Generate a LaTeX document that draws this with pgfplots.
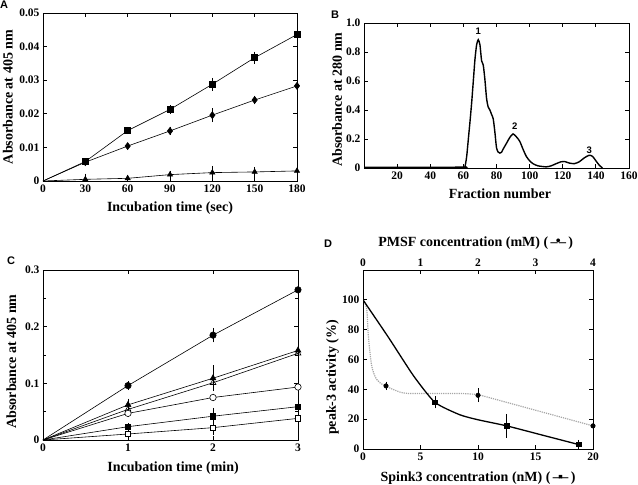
\documentclass[border=0pt]{standalone}
\usepackage{fontspec}
\setmainfont{Liberation Serif}
\newfontfamily\arial{Liberation Sans}
\usepackage{pgfplots}
\pgfplotsset{compat=1.18}

\pgfplotsset{
  panel/.style={
    scale only axis, anchor=north west,
    scaled ticks=false,
    axis line style={line width=0.9pt},
    tick style={line width=0.8pt, black},
    major tick length=4pt, minor tick length=3pt,
    tick align=inside,
    /pgf/number format/assume math mode=true,
    tick label style={font=\bfseries\fontsize{11.5}{13}\selectfont},
    label style={font=\bfseries\fontsize{14}{16}\selectfont},
    every axis plot/.append style={line width=0.6pt, black},
  },
  ebar/.style={error bars/.cd, y dir=both, y explicit,
    error bar style={line width=0.6pt},
    error mark options={mark size=1.6pt, line width=0.6pt}},
}

\begin{document}
\begin{tikzpicture}
\useasboundingbox (0,0) rectangle (638pt,-485pt);

% panel letters
\node[font=\arial\bfseries\fontsize{11}{13}\selectfont] at (4pt,-5pt) {A};
\node[font=\arial\bfseries\fontsize{11}{13}\selectfont] at (335pt,-15pt) {B};
\node[font=\arial\bfseries\fontsize{11}{13}\selectfont] at (11pt,-261pt) {C};
\node[font=\arial\bfseries\fontsize{11}{13}\selectfont] at (328pt,-244pt) {D};

% ---------------- A
\begin{axis}[panel, at={(43pt,-13pt)}, width=254pt, height=168pt,
  xmin=0, xmax=180, ymin=0, ymax=0.05,
  xtick={0,30,60,90,120,150,180},
  ytick={0,0.01,0.02,0.03,0.04,0.05},
  yticklabels={0,0.01,0.02,0.03,0.04,0.05},
  xlabel={Incubation time (sec)}, ylabel={Absorbance at 405 nm},
  xlabel style={at={(axis description cs:0.5,-0.16)}, anchor=center},
  ylabel style={at={(axis description cs:-0.138,0.5)}, anchor=center},
]
\addplot[mark=square*, mark size=3pt, mark indices={2,...,7}, ebar] coordinates {
  (0,0) +- (0,0)
  (30,0.0058) +- (0,0.0005)
  (60,0.0150) +- (0,0.0006)
  (90,0.0213) +- (0,0.0008)
  (120,0.0288) +- (0,0.0014)
  (150,0.0367) +- (0,0.0013)
  (180,0.0436) +- (0,0.0012)};
\addplot[mark=diamond*, mark size=3.5pt, mark indices={2,...,7}, ebar] coordinates {
  (0,0) +- (0,0)
  (30,0.0056) +- (0,0.0004)
  (60,0.0104) +- (0,0.0004)
  (90,0.0149) +- (0,0.0008)
  (120,0.0196) +- (0,0.0016)
  (150,0.0241) +- (0,0.0008)
  (180,0.0283) +- (0,0.0013)};
\addplot[mark=triangle*, mark size=3pt, mark indices={2,...,7}, ebar] coordinates {
  (0,0) +- (0,0)
  (30,0.0005) +- (0,0.0012)
  (60,0.0008) +- (0,0.0005)
  (90,0.0019) +- (0,0.0007)
  (120,0.0025) +- (0,0.0015)
  (150,0.0027) +- (0,0.0010)
  (180,0.0030) +- (0,0.0005)};
\end{axis}

% ---------------- B
\begin{axis}[panel, at={(364pt,-23pt)}, width=265pt, height=145pt,
  xmin=0, xmax=160, ymin=0, ymax=1.0,
  xtick={20,40,...,160},
  ytick={0,0.2,0.4,0.6,0.8,1.0},
  yticklabels={0,0.2,0.4,0.6,0.8,1.0},
  xlabel={Fraction number}, ylabel={Absorbance at 280 nm},
  xlabel style={at={(axis description cs:0.513,-0.175)}, anchor=center},
  ylabel style={at={(axis description cs:-0.102,0.472)}, anchor=center},
]
\addplot[line width=1.4pt, smooth, tension=0.4] coordinates {
  (0,0.005) (30,0.005) (60,0.006) (61,0.012) (62,0.08) (63,0.2) (64,0.32)
  (65,0.45) (66,0.6) (67,0.75) (68,0.85) (69,0.885) (70,0.85) (71,0.74)
  (72,0.71) (73,0.61) (74,0.48) (75,0.42) (76,0.40) (77,0.37) (78,0.34)
  (79,0.25) (80,0.14) (81,0.11) (82,0.103) (83,0.108) (84,0.13) (86,0.17)
  (88,0.21) (90,0.235) (92,0.215) (94,0.185) (96,0.13) (98,0.08) (100,0.05)
  (102,0.03) (105,0.015) (110,0.008) (113,0.015) (116,0.03) (119,0.043)
  (121,0.045) (124,0.034) (127,0.03) (130,0.043) (133,0.07) (136,0.088)
  (138,0.08) (140,0.05) (142,0.02) (144,0)};
\node[font=\arial\bfseries\fontsize{9.5}{11}\selectfont] at (axis cs:69,0.94) {1};
\node[font=\arial\bfseries\fontsize{9.5}{11}\selectfont] at (axis cs:91,0.285) {2};
\node[font=\arial\bfseries\fontsize{9.5}{11}\selectfont] at (axis cs:136,0.125) {3};
\end{axis}

% ---------------- C
\begin{axis}[panel, at={(43pt,-270pt)}, width=255pt, height=170pt,
  xmin=0, xmax=3, ymin=0, ymax=0.3,
  xtick={0,1,2,3},
  ytick={0,0.1,0.2,0.3}, yticklabels={0,0.1,0.2,0.3},
  minor y tick num=1,
  xlabel={Incubation time (min)}, ylabel={Absorbance at 405 nm},
  xlabel style={at={(axis description cs:0.51,-0.165)}, anchor=center},
  ylabel style={at={(axis description cs:-0.124,0.462)}, anchor=center},
]
\addplot[mark=*, mark size=3.2pt, mark indices={2,3,4}, ebar] coordinates {
  (0,0) +- (0,0) (1,0.096) +- (0,0.005) (2,0.185) +- (0,0.010) (3,0.265) +- (0,0.004)};
\addplot[mark=triangle*, mark size=3.4pt, mark indices={2,3,4}, ebar] coordinates {
  (0,0) +- (0,0) (1,0.062) +- (0,0.008) (2,0.109) +- (0,0.020) (3,0.158) +- (0,0.008)};
\addplot[mark=triangle, mark size=3.4pt, mark options={fill=white}, mark indices={2,3,4}, ebar] coordinates {
  (0,0) +- (0,0) (1,0.054) +- (0,0.004) (2,0.101) +- (0,0.008) (3,0.153) +- (0,0.005)};
\addplot[mark=*, mark size=3.2pt, mark options={fill=white}, mark indices={2,3,4}, ebar] coordinates {
  (0,0) +- (0,0) (1,0.047) +- (0,0.004) (2,0.075) +- (0,0.004) (3,0.0935) +- (0,0.004)};
\addplot[mark=square*, mark size=2.8pt, mark indices={2,3,4}, ebar] coordinates {
  (0,0) +- (0,0) (1,0.0235) +- (0,0.003) (2,0.042) +- (0,0.012) (3,0.0588) +- (0,0.004)};
\addplot[mark=square*, mark size=2.8pt, mark options={fill=white}, mark indices={2,3,4}, ebar] coordinates {
  (0,0) +- (0,0) (1,0.0106) +- (0,0.004) (2,0.0218) +- (0,0.010) (3,0.0382) +- (0,0.004)};
\end{axis}

% ---------------- D  (PMSF, top axis)
\begin{axis}[panel, at={(363pt,-270pt)}, width=230pt, height=179pt,
  xmin=0, xmax=4, ymin=0, ymax=120,
  axis x line*=top, hide y axis,
  xtick={0,1,2,3,4},
  xlabel={PMSF concentration (mM) (\,–\hspace{-0.12em}\raisebox{0.05em}{•}\hspace{-0.12em}–\,)},
  xlabel style={at={(axis description cs:0.49,1.151)}, anchor=center},
]
\addplot[gray!70, line width=1.2pt, densely dotted, smooth, tension=0.5] coordinates {
  (0,100) (0.064,94) (0.093,76) (0.15,56) (0.24,46.5) (0.38,42.5)
  (0.7,37.6) (1.1,37.2) (1.7,37.2) (2.0,36.5)};
\addplot[gray!70, line width=1.2pt, densely dotted] coordinates {
  (2.0,36.5) (4,15.5)};
\addplot[only marks, mark=*, mark size=2.2pt, ebar] coordinates {
  (0.4,42.3) +- (0,1.8) (2,36) +- (0,3.5) (4,15.5) +- (0,5)};
\end{axis}

% ---------------- D  (Spink3, bottom axis)
\begin{axis}[panel, at={(363pt,-270pt)}, width=230pt, height=179pt,
  xmin=0, xmax=20, ymin=0, ymax=120,
  xtick={0,5,10,15,20}, ytick={0,20,40,60,80,100},
  xticklabel pos=lower,
  xlabel={Spink3 concentration (nM) (\,–\hspace{-0.12em}▪\hspace{-0.12em}–\,)},
  ylabel={peak-3 activity (\%)},
  xlabel style={at={(axis description cs:0.5,-0.162)}, anchor=center},
  ylabel style={at={(axis description cs:-0.133,0.40)}, anchor=center},
]
\addplot[line width=1.3pt, smooth, tension=0.35] coordinates {
  (0,100) (2.2,75) (4.4,49) (6.25,31.3) (8.4,23) (10,19.6) (12.5,15.5)
  (15.6,9.3) (18.75,3)};
\addplot[only marks, mark=square*, mark size=2.2pt, ebar] coordinates {
  (6.25,31.3) +- (0,3) (12.5,15.5) +- (0,7) (18.75,3) +- (0,2)};
\end{axis}
\end{tikzpicture}
\end{document}
